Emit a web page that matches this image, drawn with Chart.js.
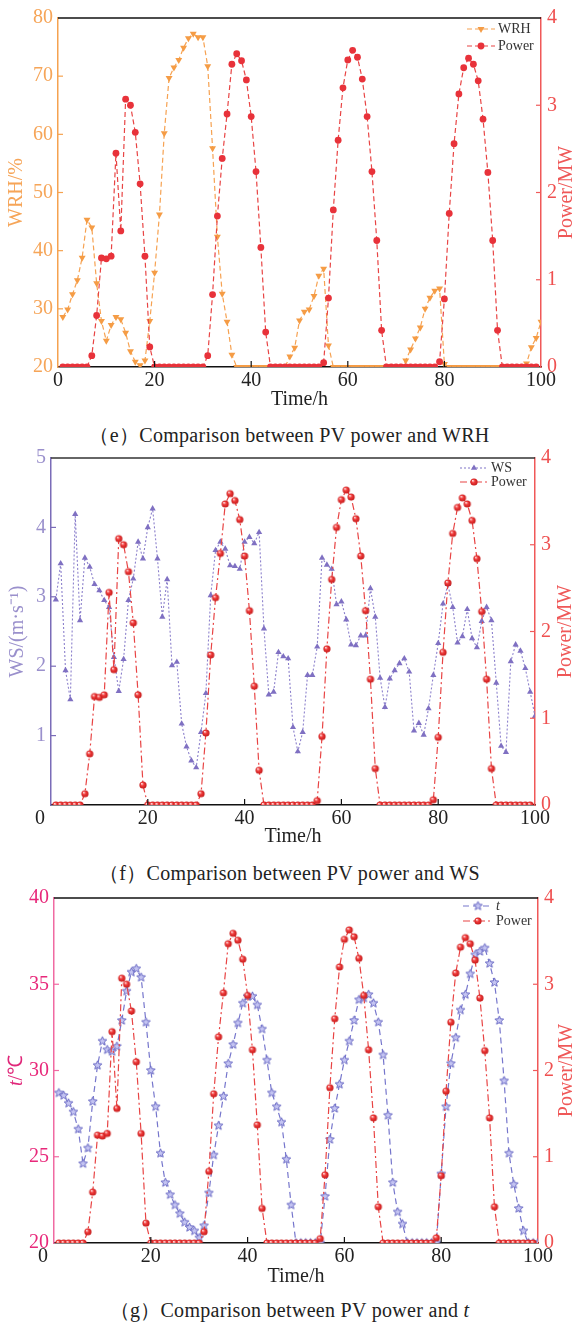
<!DOCTYPE html>
<html lang="en">
<head>
<meta charset="utf-8">
<title>PV power vs WRH / WS / t</title>
<script src="https://cdn.jsdelivr.net/npm/chart.js@4.4.1/dist/chart.umd.min.js"></script>
<style>
  body { margin: 0; width: 579px; height: 1327px; background: #fff; position: relative; overflow: hidden;
         font-family: "Liberation Serif", "Times New Roman", serif; }
  .panel { position: absolute; left: 0; width: 579px; height: 415px; }
  .caption { position: absolute; left: 0; width: 579px; text-align: center; font-size: 20px; line-height: 22px;
             color: #222; letter-spacing: 0.3px; }
</style>
</head>
<body>
<canvas id="chartWRH" class="panel" width="579" height="415" style="top:0"></canvas>
<div class="caption" style="top:424px">（e）Comparison between PV power and WRH</div>
<canvas id="chartWS" class="panel" width="579" height="415" style="top:440px"></canvas>
<div class="caption" style="top:862px">（f）Comparison between PV power and WS</div>
<canvas id="chartT" class="panel" width="579" height="415" style="top:880px"></canvas>
<div class="caption" style="top:1299px">（g）Comparison between PV power and <i>t</i></div>

<script>
// Часы наблюдения (ось X), шаг 1 ч
const hours = Array.from({ length: 100 }, (_, i) => i + 1);

// Мощность СЭС, МВт (часы 1..99)
const power = [
  0, 0, 0, 0, 0, 0, 0.13, 0.59, 1.25, 1.24, 1.27, 2.45, 1.56, 3.07, 3.0, 2.69, 2.1, 1.27, 0.23,
  0, 0, 0, 0, 0, 0, 0, 0, 0, 0, 0,
  0.13, 0.83, 1.73, 2.39, 2.9, 3.47, 3.59, 3.51, 3.29, 2.87, 2.24, 1.37, 0.4,
  0, 0, 0, 0, 0, 0, 0, 0, 0, 0, 0,
  0.05, 0.79, 1.8, 2.6, 3.2, 3.52, 3.63, 3.55, 3.3, 2.87, 2.24, 1.45, 0.42,
  0, 0, 0, 0, 0, 0, 0, 0, 0, 0, 0,
  0.06, 0.78, 1.76, 2.56, 3.13, 3.43, 3.54, 3.47, 3.28, 2.84, 2.23, 1.45, 0.42,
  0, 0, 0, 0, 0, 0, 0, 0
];

// Относительная влажность WRH, %
const wrh = [
  28.6, 29.9, 32.5, 34.9, 38.8, 45.3, 44.0, 34.4, 27.9, 24.5, 27.2, 28.6, 28.2, 25.9, 22.7, 20.9, 20.3, 21.1,
  27.9, 36.2, 46.2, 60.2, 69.7, 71.5, 72.8, 74.9, 76.5, 77.3, 76.7, 76.7, 71.7, 57.6, 42.4, 32.6, 27.8, 22.1, 20,
  20, 20, 20, 20, 20, 20, 20, 20, 20, 20,
  21.8, 23.3, 28.0, 29.5, 29.9, 32.2, 35.7, 36.9, 23.7, 20,
  20, 20, 20, 20, 20, 20, 20, 20, 20, 20, 20, 20, 20, 20,
  21.1, 23.0, 24.9, 26.8, 30.0, 31.9, 33.1, 33.5, 20.5,
  20, 20, 20, 20, 20, 20, 20, 20, 20, 20, 20, 20, 20, 20, 20, 20,
  20.6, 23.4, 25.0, 27.8
];

// Скорость ветра WS, м/с
const ws = [
  2.96, 3.48, 1.94, 1.52, 4.19, 2.66, 3.56, 3.43, 3.18, 3.09, 2.95, 2.85, 2.13, 1.64, 2.1, 2.95, 3.26, 3.79,
  3.55, 4.0, 4.27, 3.55, 2.71, 3.25, 2.01, 2.06, 1.17, 0.84, 0.64, 0.54, 1.05, 1.61, 3.02, 3.67, 3.79, 3.69,
  3.45, 3.44, 3.40, 3.79, 3.86, 3.77, 3.93, 2.54, 1.59, 1.63, 2.2, 2.14, 2.11, 1.12, 0.77, 1.05, 1.87, 1.87,
  2.28, 3.56, 3.46, 3.40, 2.89, 2.93, 2.67, 2.31, 2.30, 2.44, 2.44, 3.12, 2.71, 1.83, 1.41, 1.82, 1.94, 2.04,
  2.11, 1.92, 1.07, 1.18, 1.01, 1.39, 1.87, 2.33, 2.9, 3.18, 2.85, 2.34, 2.43, 2.82, 2.40, 2.27, 2.65, 2.85,
  2.66, 1.76, 0.85, 0.76, 2.07, 2.31, 2.22, 1.97, 1.63, 1.28
];

// Температура t, °C
const temp = [
  28.7, 28.55, 28.1, 27.6, 26.6, 24.6, 25.5, 28.2, 30.3, 31.7, 31.2, 31.1, 31.4, 32.9, 34.6, 35.7, 35.9, 35.4,
  32.8, 30.0, 27.9, 25.2, 23.5, 22.8, 22.2, 21.7, 21.2, 20.9, 20.7, 20.3, 21.0, 22.9, 25.1, 26.8, 28.5, 30.4,
  31.5, 32.75, 33.9, 34.3, 34.3, 33.8, 32.4, 30.6, 28.7, 27.9, 27.0, 24.85, 22.2, 20,
  20, 20, 20, 20, 20,
  22.7, 26.0, 27.8, 29.2, 30.6, 31.7, 32.9, 34.1, 34.2, 34.4, 33.9, 32.8, 30.9, 27.4, 23.5, 21.8, 21.1, 20,
  20, 20, 20, 20, 20, 20,
  24.0, 27.9, 30.4, 31.9, 33.5, 34.4, 35.6, 36.7, 36.9, 37.1, 36.2, 35.1, 32.9, 29.4, 25.2, 23.4, 22.0, 20.7,
  20, 20, 20
];

// Деления осей
const timeTicks = [0, 20, 40, 60, 80, 100];
const powerTicks = [0, 1, 2, 3, 4];

const FONT = '"Liberation Serif", "Times New Roman", serif';

// Точки {x, y} для линейной оси времени
const toPoints = vals => vals.map((v, i) => ({ x: hours[i], y: v }));

// Маркер-«шарик» с бликом (для Power на графиках f, g)
function makeBall(r) {
  const s = Math.ceil(r * 2 + 2);
  const c = document.createElement('canvas');
  c.width = c.height = s;
  const g = c.getContext('2d');
  const grad = g.createRadialGradient(s / 2 - r * 0.35, s / 2 - r * 0.4, r * 0.1, s / 2, s / 2, r);
  grad.addColorStop(0, '#ffd6d6');
  grad.addColorStop(0.4, '#f03a3a');
  grad.addColorStop(1, '#c41a1a');
  g.fillStyle = grad;
  g.beginPath();
  g.arc(s / 2, s / 2, r, 0, Math.PI * 2);
  g.fill();
  return c;
}

// Пятиконечная звезда (для t)
function makeStar(r) {
  const s = Math.ceil(r * 2 + 3);
  const c = document.createElement('canvas');
  c.width = c.height = s;
  const g = c.getContext('2d');
  g.beginPath();
  for (let k = 0; k < 10; k++) {
    const rr = k % 2 ? r * 0.45 : r;
    const a = -Math.PI / 2 + k * Math.PI / 5;
    const px = s / 2 + rr * Math.cos(a), py = s / 2 + rr * Math.sin(a);
    k ? g.lineTo(px, py) : g.moveTo(px, py);
  }
  g.closePath();
  g.fillStyle = '#c4c4f2';
  g.fill();
  g.strokeStyle = '#6a6ac4';
  g.lineWidth = 1;
  g.stroke();
  return c;
}

const ball = makeBall(3.6);
const star = makeStar(4.6);

// Рамка сверху, внутренние засечки, подписи осей Y и смещённый «0»
const frame = {
  id: 'frame',
  afterDraw(chart, args, o) {
    const { ctx, chartArea: a, scales } = chart;
    ctx.save();
    ctx.setLineDash([]);
    ctx.lineWidth = 1.5;
    ctx.strokeStyle = o.topColor;
    ctx.beginPath();
    ctx.moveTo(a.left, a.top);
    ctx.lineTo(a.right, a.top);
    ctx.stroke();

    ctx.lineWidth = 1.2;
    ctx.strokeStyle = '#111';
    [20, 40, 60, 80].forEach(v => {
      const px = scales.x.getPixelForValue(v);
      ctx.beginPath(); ctx.moveTo(px, a.bottom); ctx.lineTo(px, a.bottom - 6); ctx.stroke();
    });
    ctx.strokeStyle = o.leftLine;
    scales.y.ticks.forEach(t => {
      if (t.value === scales.y.min || t.value === scales.y.max) return;
      const py = scales.y.getPixelForValue(t.value);
      ctx.beginPath(); ctx.moveTo(a.left, py); ctx.lineTo(a.left + 5, py); ctx.stroke();
    });
    ctx.strokeStyle = '#f05a5a';
    powerTicks.slice(1, -1).forEach(v => {
      const py = scales.y1.getPixelForValue(v);
      ctx.beginPath(); ctx.moveTo(a.right, py); ctx.lineTo(a.right - 5, py); ctx.stroke();
    });

    // Подписи осей Y, читаются снизу вверх
    const midY = (a.top + a.bottom) / 2;
    const vtitle = (parts, color, x) => {
      ctx.save();
      ctx.translate(x, midY);
      ctx.rotate(-Math.PI / 2);
      ctx.fillStyle = color;
      ctx.textBaseline = 'middle';
      let w = 0;
      parts.forEach(p => { ctx.font = (p.italic ? 'italic ' : '') + '20px ' + FONT; w += ctx.measureText(p.text).width; });
      let cx = -w / 2;
      parts.forEach(p => {
        ctx.font = (p.italic ? 'italic ' : '') + '20px ' + FONT;
        ctx.fillText(p.text, cx, 0);
        cx += ctx.measureText(p.text).width;
      });
      ctx.restore();
    };
    vtitle(o.leftTitle, o.leftColor, o.leftX);
    vtitle([{ text: 'Power/MW' }], '#ef5858', o.rightX);

    if (o.zeroShift) {
      ctx.fillStyle = '#222';
      ctx.font = '20px ' + FONT;
      ctx.textAlign = 'center';
      ctx.textBaseline = 'middle';
      ctx.fillText('0', a.left - o.zeroShift, a.bottom + 14);
    }
    ctx.restore();
  }
};

// Легенда: отрезок линии с маркером и подпись
const lineKey = {
  id: 'lineKey',
  afterDraw(chart, args, o) {
    if (!o.items) return;
    const ctx = chart.ctx;
    ctx.save();
    o.items.forEach(it => {
      const ds = chart.data.datasets[it.ds];
      ctx.lineWidth = ds.borderWidth;
      ctx.strokeStyle = ds.borderColor;
      ctx.setLineDash(ds.borderDash || []);
      ctx.beginPath(); ctx.moveTo(o.x1, it.y); ctx.lineTo(o.x2, it.y); ctx.stroke();
      ctx.setLineDash([]);
      ctx.fillStyle = ds.pointBackgroundColor;
      ctx.strokeStyle = ds.pointBorderColor;
      Chart.helpers.drawPoint(ctx, {
        pointStyle: ds.pointStyle, radius: ds.pointRadius,
        rotation: ds.pointRotation || 0, borderWidth: 0
      }, (o.x1 + o.x2) / 2, it.y);
      ctx.fillStyle = '#333';
      ctx.font = (it.italic ? 'italic ' : '') + '14px ' + FONT;
      ctx.textBaseline = 'middle';
      ctx.fillText(it.label, o.x2 + 3, it.y);
    });
    ctx.restore();
  }
};

function makePanel(id, p) {
  const tickFont = { family: FONT, size: 20 };
  return new Chart(document.getElementById(id), {
    type: 'line',
    data: { datasets: [p.powerSet, p.envSet] },
    plugins: [frame, lineKey],
    options: {
      responsive: false,
      animation: false,
      layout: { padding: { top: p.top, left: 0, right: 0, bottom: 0 } },
      plugins: {
        legend: { display: false },
        tooltip: { enabled: false },
        frame: {
          topColor: p.topColor, leftLine: p.left.line, leftColor: p.left.titleColor,
          leftTitle: p.left.title, leftX: p.left.titleX, rightX: p.rightTitleX, zeroShift: p.zeroShift
        },
        lineKey: p.key
      },
      scales: {
        x: {
          type: 'linear', min: 0, max: 100,
          afterBuildTicks: s => { s.ticks = timeTicks.map(v => ({ value: v })); },
          ticks: {
            color: '#222', font: tickFont, padding: 2, maxRotation: 0,
            callback: v => (p.zeroShift && v === 0) ? '' : v
          },
          grid: { drawOnChartArea: false, drawTicks: false },
          border: { color: '#111', width: 1.5 },
          title: { display: true, text: 'Time/h', color: '#222', font: tickFont, padding: { top: 0, bottom: p.timePad } },
          afterFit: s => { s.height = p.xHeight; }
        },
        y: {
          position: 'left', min: p.left.min, max: p.left.max,
          ticks: {
            stepSize: p.left.step, color: p.left.tickColor, font: tickFont, padding: 5,
            callback: v => (p.left.hideMin && v === p.left.min) ? '' : v
          },
          grid: { drawOnChartArea: false, drawTicks: false },
          border: { color: p.left.line, width: 1.5 },
          afterFit: s => { s.width = p.left.width; }
        },
        y1: {
          position: 'right', min: 0, max: 4,
          afterBuildTicks: s => { s.ticks = powerTicks.map(v => ({ value: v })); },
          ticks: { color: '#ef5050', font: tickFont, padding: 6 },
          grid: { drawOnChartArea: false, drawTicks: false },
          border: { color: '#f05858', width: 1.5 },
          afterFit: s => { s.width = p.rightWidth; }
        }
      }
    }
  });
}

// Power — одна и та же серия на трёх графиках
function powerSet(dash, pointStyle, radius) {
  return {
    label: 'Power', data: toPoints(power), yAxisID: 'y1',
    borderColor: '#e84444', borderWidth: 1.2, borderDash: dash,
    pointStyle, pointRadius: radius, pointBackgroundColor: '#e8323a',
    pointBorderColor: '#e8323a', pointBorderWidth: 0, tension: 0
  };
}

makePanel('chartWRH', {
  top: 18, xHeight: 48, timePad: 3, rightWidth: 38, rightTitleX: 567, topColor: '#111',
  left: {
    min: 20, max: 80, step: 10, width: 58, line: '#f5a250', tickColor: '#f6a558',
    title: [{ text: 'WRH/%' }], titleColor: '#f6a558', titleX: 17
  },
  powerSet: powerSet([5, 3], 'circle', 3.4),
  envSet: {
    label: 'WRH', data: toPoints(wrh), yAxisID: 'y',
    borderColor: '#f6a252', borderWidth: 1.2, borderDash: [5, 3],
    pointStyle: 'triangle', pointRotation: 180, pointRadius: 4,
    pointBackgroundColor: '#f59c45', pointBorderColor: '#f59c45', pointBorderWidth: 0, tension: 0
  },
  key: { x1: 467, x2: 495, items: [{ ds: 1, label: 'WRH', y: 29 }, { ds: 0, label: 'Power', y: 46 }] }
});

makePanel('chartWS', {
  top: 17, xHeight: 50, timePad: 6, rightWidth: 44, rightTitleX: 566, topColor: '#333', zeroShift: 11,
  left: {
    min: 0, max: 5, step: 1, width: 51, line: '#7a6cb8', tickColor: '#9a90cc', hideMin: true,
    title: [{ text: 'WS/(m·s⁻¹)' }], titleColor: '#9a90cc', titleX: 18
  },
  powerSet: powerSet([7, 3, 2, 3], ball, 3.6),
  envSet: {
    label: 'WS', data: toPoints(ws), yAxisID: 'y',
    borderColor: '#8c80cc', borderWidth: 1.1, borderDash: [2, 2],
    pointStyle: 'triangle', pointRadius: 3.6,
    pointBackgroundColor: '#7f70c2', pointBorderColor: '#7f70c2', pointBorderWidth: 0, tension: 0
  },
  key: { x1: 460, x2: 488, items: [{ ds: 1, label: 'WS', y: 28 }, { ds: 0, label: 'Power', y: 42 }] }
});

makePanel('chartT', {
  top: 15, xHeight: 52, timePad: 6, rightWidth: 41, rightTitleX: 567, topColor: '#111', zeroShift: 11,
  left: {
    min: 20, max: 40, step: 5, width: 54, line: '#f06aa2', tickColor: '#e8287a',
    title: [{ text: 't', italic: true }, { text: '/℃' }], titleColor: '#e0287a', titleX: 17
  },
  powerSet: powerSet([7, 3, 2, 3], ball, 3.6),
  envSet: {
    label: 't', data: toPoints(temp), yAxisID: 'y',
    borderColor: '#7676cc', borderWidth: 1.2, borderDash: [6, 4],
    pointStyle: star, pointRadius: 4.6,
    pointBackgroundColor: '#c4c4f2', pointBorderColor: '#6a6ac4', pointBorderWidth: 0, tension: 0
  },
  key: { x1: 463, x2: 493, items: [{ ds: 1, label: 't', italic: true, y: 26 }, { ds: 0, label: 'Power', y: 41 }] }
});
</script>
</body>
</html>
